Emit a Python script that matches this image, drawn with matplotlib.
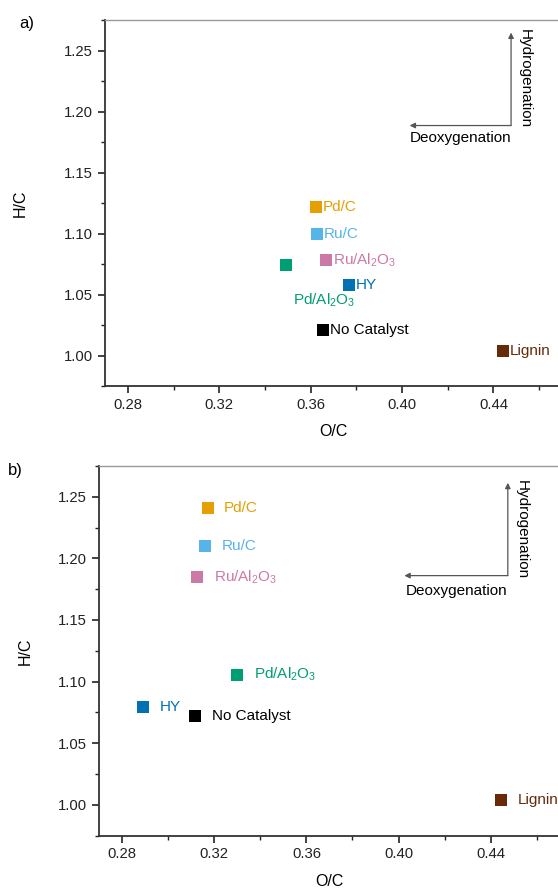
import matplotlib
matplotlib.use("Agg")
import matplotlib.pyplot as plt
from matplotlib.ticker import MultipleLocator

plt.rcParams['font.family'] = ['Liberation Sans', 'DejaVu Sans']
plt.rcParams['font.size'] = 11

# catalysts and colours
names = ["Pd/C", "Ru/C", "Ru/Al$\\mathregular{_2}$O$\\mathregular{_3}$",
         "Pd/Al$\\mathregular{_2}$O$\\mathregular{_3}$", "HY", "No Catalyst", "Lignin"]
colors = ["#E69F00", "#56B4E9", "#CC79A7", "#009E73", "#0072B2", "#000000", "#662A08"]

# panel a values
oc_a = [0.3623, 0.3629, 0.3668, 0.3492, 0.3769, 0.3654, 0.4441]
hc_a = [1.1217, 1.1000, 1.0782, 1.0741, 1.0578, 1.0210, 1.0035]

# panel b values
oc_b = [0.3171, 0.3160, 0.3125, 0.3301, 0.2893, 0.3118, 0.4443]
hc_b = [1.2406, 1.2103, 1.1850, 1.1057, 1.0791, 1.0721, 1.0038]

# label offsets (points)
offs_a = [(5, 0), (5, 0), (5, 0), (5, -25), (5, 0), (5, 0), (5, 0)]
offs_b = [(12, 0), (12, 0), (12, 0), (12, 0), (12, 0), (12, 0), (12, 0)]

fig = plt.figure(figsize=(5.58, 8.89), dpi=100)
ax_a = fig.add_axes([0.1882, 0.5658, 0.819, 0.4117])
ax_b = fig.add_axes([0.1774, 0.0600, 0.826, 0.4159])


def draw(ax, oc, hc, offs, corner, tip_y, tip_x, ylpad, dlpad):
    for x, y, n, c, o in zip(oc, hc, names, colors, offs):
        ax.scatter([x], [y], s=82, marker='s', color=c, zorder=3, linewidths=0)
        ax.annotate(n, (x, y), xytext=o, textcoords='offset points',
                    ha='left', va='center', color=c, fontsize=11)
    ax.set_xlim(0.27, 0.47)
    ax.set_ylim(0.975, 1.275)
    ax.xaxis.set_major_locator(MultipleLocator(0.04))
    ax.xaxis.set_minor_locator(MultipleLocator(0.02))
    ax.yaxis.set_major_locator(MultipleLocator(0.05))
    ax.yaxis.set_minor_locator(MultipleLocator(0.025))
    ax.xaxis.set_major_formatter(lambda v, p: f"{v:.2f}")
    ax.yaxis.set_major_formatter(lambda v, p: f"{v:.2f}")
    ax.tick_params(which='major', direction='out', length=5, width=1.2, labelsize=10.7, colors='#222222')
    ax.tick_params(which='minor', direction='out', length=3, width=1.0, colors='#222222')
    ax.spines['right'].set_visible(False)
    ax.spines['top'].set_color('#999999')
    ax.spines['top'].set_linewidth(1.0)
    for s in ['left', 'bottom']:
        ax.spines[s].set_linewidth(1.3)
        ax.spines[s].set_color('#333333')
    ax.set_xlabel("O/C", fontsize=11.5, labelpad=9)
    ax.set_ylabel("H/C", fontsize=11.5, labelpad=ylpad)
    # direction arrows
    ax.annotate("", xy=(corner[0], tip_y), xytext=corner,
                arrowprops=dict(arrowstyle='-|>', color='#555555', lw=0.9,
                                mutation_scale=8, shrinkA=0, shrinkB=0))
    ax.annotate("", xy=(tip_x, corner[1]), xytext=corner,
                arrowprops=dict(arrowstyle='-|>', color='#555555', lw=0.9,
                                mutation_scale=8, shrinkA=0, shrinkB=0))
    ax.annotate("Deoxygenation", ((corner[0] + tip_x) / 2, corner[1]), xytext=(0, -dlpad),
                textcoords='offset points', ha='center', va='top', fontsize=11)
    ax.annotate("Hydrogenation", (corner[0], (corner[1] + tip_y) / 2), xytext=(5, 0),
                textcoords='offset points', ha='left', va='center', rotation=-90, fontsize=11)


draw(ax_a, oc_a, hc_a, offs_a, (0.4477, 1.1885), 1.2647, 0.4033, 26, 4)
draw(ax_b, oc_b, hc_b, offs_b, (0.4474, 1.1860), 1.2613, 0.4025, 18, 6)

fig.text(0.048, 0.974, "a)", fontsize=12, ha='center', va='center')
fig.text(0.027, 0.471, "b)", fontsize=12, ha='center', va='center')

fig.savefig("out.png", dpi=100)
